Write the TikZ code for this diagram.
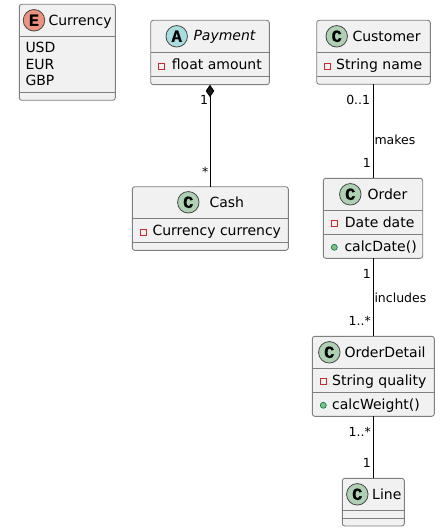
\documentclass[tikz,border=0pt]{standalone}
\usepackage{fontspec}
\setmainfont{DejaVu Sans}
\newfontfamily\lettermono[BoldFeatures={FakeBold=0.8}]{Liberation Mono}
\usetikzlibrary{arrows.meta}
\definecolor{boxfill}{HTML}{F1F1F1}
\definecolor{boxline}{HTML}{7F7F7F}
\definecolor{inkc}{HTML}{181818}
\definecolor{spotC}{HTML}{ADD1B2}
\definecolor{spotA}{HTML}{A9DCDF}
\definecolor{spotE}{HTML}{EB937F}
\definecolor{privred}{HTML}{C82930}
\definecolor{pubgreen}{HTML}{84BE84}
\definecolor{pubedge}{HTML}{038048}
\tikzset{
  x=1pt,y=-1pt,
  classbox/.style={draw=boxline,fill=boxfill,line width=0.9pt,rounded corners=2.5pt,
    anchor=north west,inner sep=0pt,outer sep=0pt},
  sepline/.style={draw=boxline,line width=0.9pt},
  spot/.style={circle,draw=inkc!80!white,line width=0.8pt,minimum size=21.5pt,inner sep=0pt,
    font=\lettermono\bfseries\fontsize{17}{17}\selectfont,text=black},
  titletext/.style={anchor=base west,inner sep=0pt,text=black,font=\fontsize{14}{16}\selectfont},
  membertext/.style={titletext},
  edgetext/.style={anchor=base west,inner sep=0pt,text=black,font=\fontsize{12.5}{15}\selectfont},
  edgetextr/.style={edgetext,anchor=base east},
  privsq/.style={draw=privred,line width=0.9pt,fill=none,minimum size=6pt,inner sep=0pt},
  pubdot/.style={circle,draw=pubedge,fill=pubgreen,line width=0.7pt,minimum size=6pt,inner sep=0pt},
  conn/.style={draw=black,line width=0.9pt},
}
\begin{document}
\begin{tikzpicture}
\useasboundingbox (0,0) rectangle (445,532);
% class boxes
\node[classbox,minimum width=96pt,minimum height=96pt] (currency) at (19.3,4.3) {};
\node[classbox,minimum width=118.6pt,minimum height=64.4pt] (payment) at (150.7,20.3) {};
\node[classbox,minimum width=156pt,minimum height=63.6pt] (cash) at (132.3,186.7) {};
\node[classbox,minimum width=113.6pt,minimum height=64pt] (customer) at (316.7,20.3) {};
\node[classbox,minimum width=99.4pt,minimum height=80pt] (order) at (323.3,178.3) {};
\node[classbox,minimum width=122pt,minimum height=80pt] (detail) at (312.3,336.3) {};
\node[classbox,minimum width=62pt,minimum height=47.7pt] (line) at (342.3,478.3) {};
% compartment separators
\draw[sepline] (19.3,36.7) -- (115.3,36.7) (19.3,92.3) -- (115.3,92.3);
\draw[sepline] (150.7,52.3) -- (269.3,52.3) (150.7,76.3) -- (269.3,76.3);
\draw[sepline] (132.3,218.3) -- (288.3,218.3) (132.3,242.3) -- (288.3,242.3);
\draw[sepline] (316.7,52.3) -- (430.3,52.3) (316.7,76.3) -- (430.3,76.3);
\draw[sepline] (323.3,210.3) -- (422.7,210.3) (323.3,234.3) -- (422.7,234.3);
\draw[sepline] (312.3,368.3) -- (434.3,368.3) (312.3,392.3) -- (434.3,392.3);
\draw[sepline] (342.3,510.3) -- (404.3,510.3) (342.3,518.3) -- (404.3,518.3);
% spots
\node[spot,fill=spotE] (spotcur) at (34,20.3) {E};
\node[spot,fill=spotA] (spotpay) at (176.7,36.3) {A};
\node[spot,fill=spotC] (spotcash) at (188.3,202.3) {C};
\node[spot,fill=spotC] (spotcust) at (336.7,36.3) {C};
\node[spot,fill=spotC] (spotord) at (350.3,194.3) {C};
\node[spot,fill=spotC] (spotdet) at (329.3,352.3) {C};
\node[spot,fill=spotC] (spotline) at (357.3,494.3) {C};
% titles
\node[titletext] (tcur) at (48.3,25.3) {Currency};
\node[titletext] (tpay) at (193.3,41.0) {\itshape Payment};
\node[titletext] (tcash) at (209.3,207.3) {Cash};
\node[titletext] (tcust) at (352.3,41.3) {Customer};
\node[titletext] (tord) at (367.3,199.3) {Order};
\node[titletext] (tdet) at (344.3,357.3) {OrderDetail};
\node[titletext] (tline) at (372,499.3) {Line};
% members
\node[membertext] (usd) at (25.3,53) {USD};
\node[membertext] (eur) at (25.3,69.5) {EUR};
\node[membertext] (gbp) at (25.3,86) {GBP};
\node[privsq] (v1) at (161.3,66.5) {};
\node[membertext] (m1) at (171.7,69.3) {float amount};
\node[privsq] (v2) at (143.7,232.3) {};
\node[membertext] (m2) at (152.3,235.3) {Currency currency};
\node[privsq] (v3) at (327.5,66.3) {};
\node[membertext] (m3) at (336,69.3) {String name};
\node[privsq] (v4) at (334.5,223.5) {};
\node[membertext] (m4) at (344.7,227.3) {Date date};
\node[pubdot] (v5) at (334.3,247.3) {};
\node[membertext] (m5) at (344.3,251.3) {calcDate()};
\node[privsq] (v6) at (323.5,381.5) {};
\node[membertext] (m6) at (332,385.3) {String quality};
\node[pubdot] (v7) at (323.3,405.3) {};
\node[membertext] (m7) at (332,409.3) {calcWeight()};
% connectors
\draw[conn,{Diamond[length=12.5pt,width=8.5pt,fill=inkc]}-] (payment.south) -- (payment.south |- cash.north);
\draw[conn] (customer.south) -- (customer.south |- order.north);
\draw[conn] (customer.south |- order.south) -- (customer.south |- detail.north);
\draw[conn] (customer.south |- detail.south) -- (customer.south |- line.north);
% connector labels
\node[edgetextr] (l1) at (208.3,105) {1};
\node[edgetextr] (l2) at (208.5,176) {*};
\node[edgetextr] (l3) at (370.3,105) {0..1};
\node[edgetextr] (l4) at (371,167.3) {1};
\node[edgetext] (l5) at (374.3,144) {makes};
\node[edgetextr] (l6) at (371,278.5) {1};
\node[edgetext] (l7) at (374.3,302) {includes};
\node[edgetextr] (l8) at (371,325) {1..*};
\node[edgetextr] (l9) at (371,436.7) {1..*};
\node[edgetextr] (l10) at (371,467) {1};
\end{tikzpicture}
\end{document}
